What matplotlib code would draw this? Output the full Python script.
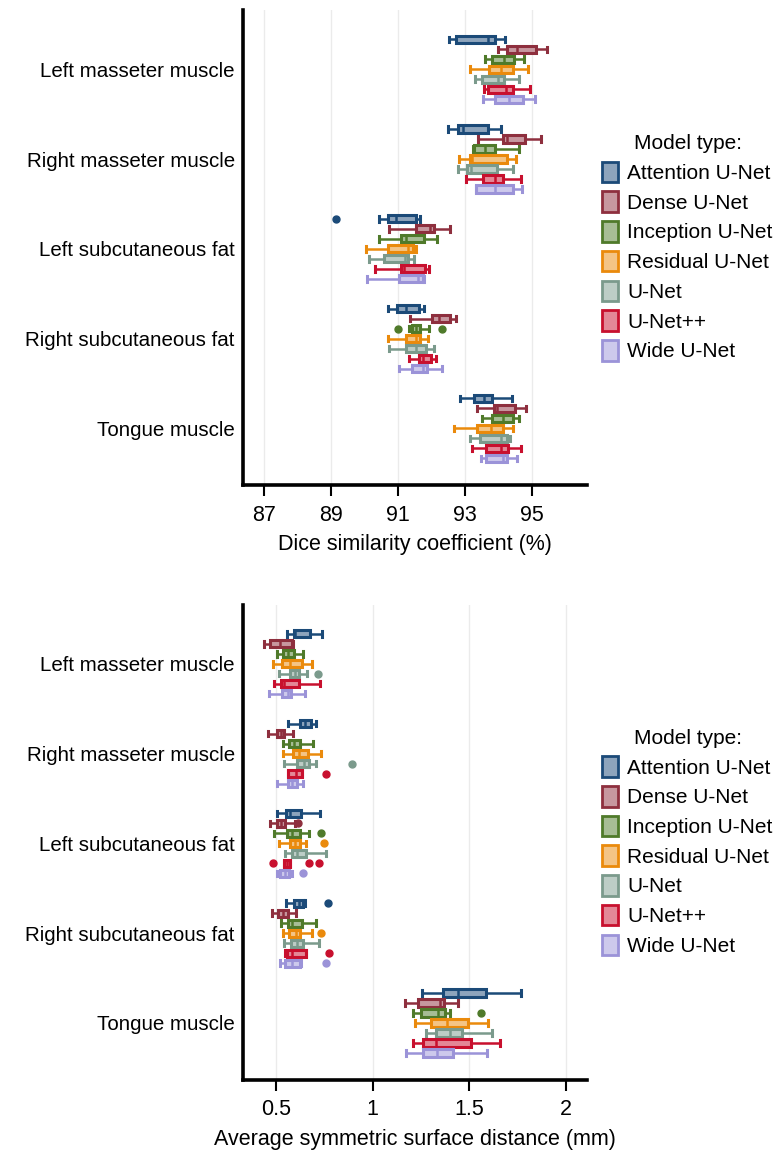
import matplotlib.pyplot as plt
from matplotlib.patches import Patch
from matplotlib.colors import to_rgb

structures = ['Left masseter muscle', 'Right masseter muscle', 'Left subcutaneous fat',
              'Right subcutaneous fat', 'Tongue muscle']
models = ['Attention U-Net', 'Dense U-Net', 'Inception U-Net', 'Residual U-Net',
          'U-Net', 'U-Net++', 'Wide U-Net']
colors = ['#1b4a78', '#8e2f3e', '#4f7a2a', '#ea8a0c', '#7b9a8c', '#c8102e', '#9b93d8']

# Dice similarity coefficient (%), rows = structures, cols = models
dsc_lo = [[92.51, 93.98, 93.60, 93.14, 93.30, 93.56, 93.53],
          [92.49, 93.39, 93.23, 92.81, 92.78, 93.02, 93.33],
          [90.42, 90.72, 90.42, 90.04, 90.12, 90.32, 90.06],
          [90.70, 91.36, 91.32, 90.70, 90.72, 91.33, 91.02],
          [92.83, 93.35, 93.51, 92.66, 93.14, 93.20, 93.46]]
dsc_q1 = [[92.73, 94.25, 93.80, 93.70, 93.51, 93.68, 93.90],
          [92.79, 94.14, 93.26, 93.13, 93.06, 93.54, 93.33],
          [90.71, 91.52, 91.07, 90.69, 90.57, 91.07, 91.01],
          [90.97, 92.00, 91.42, 91.22, 91.24, 91.61, 91.42],
          [93.26, 93.86, 93.81, 93.36, 93.43, 93.63, 93.63]]
dsc_med = [[93.68, 94.55, 94.17, 94.07, 93.97, 94.22, 94.32],
           [92.93, 94.25, 93.60, 93.20, 93.16, 93.90, 93.88],
           [90.94, 91.94, 91.24, 91.29, 91.19, 91.17, 91.60],
           [91.24, 92.23, 91.54, 91.54, 91.52, 91.74, 91.74],
           [93.56, 93.96, 94.12, 93.78, 94.07, 94.07, 94.12]]
dsc_q3 = [[93.88, 95.12, 94.47, 94.43, 94.17, 94.44, 94.72],
          [93.68, 94.79, 93.90, 94.24, 93.95, 94.14, 94.42],
          [91.54, 92.08, 91.77, 91.44, 91.29, 91.81, 91.74],
          [91.62, 92.55, 91.66, 91.66, 91.84, 91.99, 91.87],
          [93.81, 94.50, 94.42, 94.12, 94.25, 94.27, 94.25]]
dsc_hi = [[94.19, 95.44, 94.74, 94.87, 94.60, 94.94, 95.09],
          [94.08, 95.27, 94.60, 94.52, 94.44, 94.67, 94.70],
          [91.64, 92.55, 92.16, 91.54, 91.46, 91.91, 91.77],
          [91.77, 92.73, 91.92, 91.90, 92.06, 92.13, 92.31],
          [94.40, 94.82, 94.59, 94.44, 94.35, 94.65, 94.54]]
dsc_out = {(2, 0): [89.15], (3, 2): [90.99, 92.31]}

# Average symmetric surface distance (mm)
assd_lo = [[0.555, 0.438, 0.507, 0.486, 0.517, 0.490, 0.464],
           [0.564, 0.460, 0.538, 0.534, 0.543, 0.562, 0.503],
           [0.503, 0.469, 0.491, 0.516, 0.547, 0.541, 0.507],
           [0.550, 0.481, 0.526, 0.538, 0.543, 0.547, 0.521],
           [1.257, 1.167, 1.207, 1.219, 1.276, 1.210, 1.171]]
assd_q1 = [[0.593, 0.469, 0.538, 0.529, 0.572, 0.524, 0.533],
           [0.624, 0.507, 0.569, 0.586, 0.607, 0.564, 0.559],
           [0.550, 0.503, 0.555, 0.572, 0.581, 0.543, 0.521],
           [0.590, 0.512, 0.560, 0.569, 0.578, 0.555, 0.547],
           [1.362, 1.236, 1.250, 1.300, 1.328, 1.262, 1.262]]
assd_med = [[0.600, 0.521, 0.564, 0.572, 0.598, 0.541, 0.559],
            [0.650, 0.524, 0.593, 0.616, 0.645, 0.603, 0.581],
            [0.570, 0.524, 0.581, 0.598, 0.607, 0.555, 0.547],
            [0.616, 0.538, 0.581, 0.603, 0.607, 0.581, 0.581],
            [1.443, 1.348, 1.336, 1.386, 1.400, 1.328, 1.331]]
assd_q3 = [[0.676, 0.581, 0.590, 0.633, 0.616, 0.616, 0.578],
           [0.681, 0.543, 0.624, 0.664, 0.672, 0.633, 0.610],
           [0.628, 0.547, 0.621, 0.624, 0.655, 0.572, 0.569],
           [0.638, 0.564, 0.633, 0.624, 0.641, 0.653, 0.621],
           [1.586, 1.366, 1.371, 1.491, 1.460, 1.507, 1.414]]
assd_hi = [[0.736, 0.586, 0.641, 0.688, 0.659, 0.728, 0.650],
           [0.707, 0.586, 0.693, 0.731, 0.705, 0.636, 0.641],
           [0.728, 0.598, 0.671, 0.655, 0.759, 0.574, 0.581],
           [0.647, 0.603, 0.707, 0.684, 0.722, 0.653, 0.629],
           [1.767, 1.443, 1.397, 1.598, 1.616, 1.659, 1.590]]
assd_out = {(0, 4): [0.719], (1, 4): [0.895], (1, 5): [0.759],
            (2, 1): [0.612], (2, 2): [0.731], (2, 3): [0.750],
            (2, 5): [0.486, 0.672, 0.724], (2, 6): [0.641],
            (3, 0): [0.766], (3, 3): [0.733], (3, 5): [0.776], (3, 6): [0.757],
            (4, 2): [1.559]}

plt.rcParams['font.family'] = ['Liberation Sans', 'DejaVu Sans']


def lighten(c, amt=0.5):
    r, g, b = to_rgb(c)
    return (r + (1 - r) * amt, g + (1 - g) * amt, b + (1 - b) * amt)


def draw_panel(ax, lo, q1, med, q3, hi, out, xlim, xticks, xticklabels, xlabel):
    for g in range(len(structures)):
        for i in range(len(models)):
            st = {'whislo': lo[g][i], 'q1': q1[g][i], 'med': med[g][i],
                  'q3': q3[g][i], 'whishi': hi[g][i], 'fliers': out.get((g, i), [])}
            c = colors[i]
            ax.bxp([st], positions=[g * 9 + i], vert=False, widths=0.72,
                   patch_artist=True, capwidths=0.55,
                   boxprops=dict(facecolor=lighten(c, 0.5), edgecolor=c, linewidth=2.2),
                   medianprops=dict(color=c, linewidth=1.8),
                   whiskerprops=dict(color=c, linewidth=1.8),
                   capprops=dict(color=c, linewidth=2.2),
                   flierprops=dict(marker='o', markerfacecolor=c, markeredgecolor=c,
                                   markersize=5))
    ax.set_ylim(4 * 9 + 6 + 2.7, -2.9)
    ax.set_yticks([g * 9 + 3 for g in range(len(structures))])
    ax.set_yticklabels(structures, fontsize=14.8)
    ax.tick_params(axis='y', length=0, pad=6)
    ax.set_xlim(*xlim)
    ax.set_xticks(xticks)
    ax.set_xticklabels(xticklabels, fontsize=15.5)
    ax.tick_params(axis='x', length=8, width=1.5, pad=6)
    ax.set_xlabel(xlabel, fontsize=15.5, labelpad=6)
    ax.grid(axis='x', color='#ebebeb', linewidth=1)
    ax.set_axisbelow(True)
    for s in ['top', 'right']:
        ax.spines[s].set_visible(False)
    for s in ['left', 'bottom']:
        ax.spines[s].set_linewidth(2.6)
    handles = [Patch(facecolor=lighten(c, 0.5), edgecolor=c, linewidth=2) for c in colors]
    ax.legend(handles, models, title='Model type:', loc='center left',
              bbox_to_anchor=(1.02, 0.5), frameon=False, fontsize=15,
              title_fontsize=15, handlelength=0.75, handleheight=1.15,
              handletextpad=0.45, labelspacing=0.4, borderaxespad=0)


fig = plt.figure(figsize=(7.84, 11.5), dpi=100)
ax1 = fig.add_axes([0.31, 0.578, 0.439, 0.413])
ax2 = fig.add_axes([0.31, 0.061, 0.439, 0.413])

draw_panel(ax1, dsc_lo, dsc_q1, dsc_med, dsc_q3, dsc_hi, dsc_out,
           (86.37, 96.64), [87, 89, 91, 93, 95], ['87', '89', '91', '93', '95'],
           'Dice similarity coefficient (%)')
draw_panel(ax2, assd_lo, assd_q1, assd_med, assd_q3, assd_hi, assd_out,
           (0.329, 2.109), [0.5, 1.0, 1.5, 2.0], ['0.5', '1', '1.5', '2'],
           'Average symmetric surface distance (mm)')

fig.savefig('out.png', dpi=100)
